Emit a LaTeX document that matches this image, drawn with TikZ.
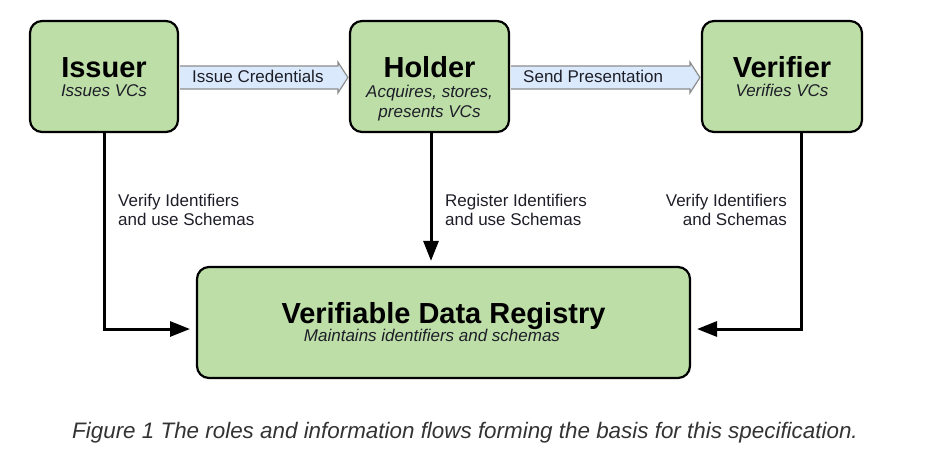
\documentclass[tikz,border=0pt]{standalone}
\usepackage{fontspec}
\setmainfont{Liberation Sans}
\usetikzlibrary{arrows.meta,calc}
\definecolor{boxgreen}{RGB}{189,222,167}
\definecolor{arrowblue}{RGB}{218,234,252}
\definecolor{arrowedge}{RGB}{140,140,140}
\definecolor{inktext}{RGB}{30,30,40}
\begin{document}
\begin{tikzpicture}[x=1pt,y=-1pt,
  role/.style={draw=black, line width=2.2pt, fill=boxgreen, rounded corners=12pt, inner sep=0pt},
  title/.style={inner sep=0pt, anchor=base, font=\fontsize{29}{34}\selectfont\bfseries, text=black},
  subtitle/.style={inner sep=0pt, anchor=base, font=\fontsize{17}{19.5}\selectfont\itshape, text=inktext, align=center},
  flowlabel/.style={inner sep=0pt, font=\fontsize{17}{19}\selectfont, text=inktext},
  conn/.style={line width=3pt, -{Triangle[length=20pt,width=15pt]}},
  blockarrow/.style={draw=arrowedge, line width=1.2pt, fill=arrowblue, line join=miter},
  caption/.style={inner sep=0pt, anchor=base west, font=\fontsize{22.4}{26}\selectfont\itshape, text=black!80}
  ]
\useasboundingbox (0,0) rectangle (933,475);

\node[role, minimum width=148pt, minimum height=111pt] (issuer) at (104,76.5) {};
\node[role, minimum width=159pt, minimum height=111pt] (holder) at (429.5,76.5) {};
\node[role, minimum width=160pt, minimum height=111pt] (verifier) at (782,76.5) {};
\node[role, minimum width=493pt, minimum height=111pt] (registry) at (443.5,322.5) {};

% block arrows
\draw[blockarrow] ($(issuer.east)+(1.1,-10.5)$) -- ($(holder.west)+(-11,-10.5)$) -- ($(holder.west)+(-11,-14.5)$)
  -- ($(holder.west)+(-1,1)$) -- ($(holder.west)+(-11,16.5)$) -- ($(holder.west)+(-11,12.5)$)
  -- ($(issuer.east)+(1.1,12.5)$);
\draw[blockarrow] ($(holder.east)+(1.1,-10.5)$) -- ($(verifier.west)+(-11,-10.5)$) -- ($(verifier.west)+(-11,-14.5)$)
  -- ($(verifier.west)+(-1,1)$) -- ($(verifier.west)+(-11,16.5)$) -- ($(verifier.west)+(-11,12.5)$)
  -- ($(holder.east)+(1.1,12.5)$);

\node[flowlabel, anchor=base west] (lblissue) at (192,82) {Issue Credentials};
\node[flowlabel, anchor=base west] (lblsend) at (523,82) {Send Presentation};

% titles
\node[title] (tissuer) at (104,77) {Issuer};
\node[subtitle] (sissuer) at (104,96) {Issues VCs};
\node[title] (tholder) at (429.5,77) {Holder};
\node[subtitle] (sholder) at (429.5,97) {Acquires, stores,};
\node[subtitle] (sholder2) at (429.5,117) {presents VCs};
\node[title] (tverifier) at (782,77) {Verifier};
\node[subtitle] (sverifier) at (782,96) {Verifies VCs};
\node[title] (tregistry) at (443.5,323) {Verifiable Data Registry};
\node[subtitle] (sregistry) at (432,341) {Maintains identifiers and schemas};

% connectors to registry
\coordinate (inL) at (190,329);
\coordinate (inR) at (697,329);
\draw[conn] (issuer.south) |- (inL);
\draw[conn] ([xshift=19pt]verifier.south) |- (inR);
\draw[conn, shorten >=5pt] ([xshift=1.5pt]holder.south) -- ([xshift=1.5pt]holder.south |- registry.north);

% connector labels (base anchor = last line's baseline)
\node[flowlabel, anchor=base west, align=left] (l1) at (118,225) {Verify Identifiers\\and use Schemas};
\node[flowlabel, anchor=base west, align=left] (l2) at (445,225) {Register Identifiers\\and use Schemas};
\node[flowlabel, anchor=base east, align=right] (l3) at (787,225) {Verify Identifiers\\and Schemas};

% caption
\node[caption] (cap) at (72,438) {Figure 1 The roles and information flows forming the basis for this specification.};
\end{tikzpicture}
\end{document}
